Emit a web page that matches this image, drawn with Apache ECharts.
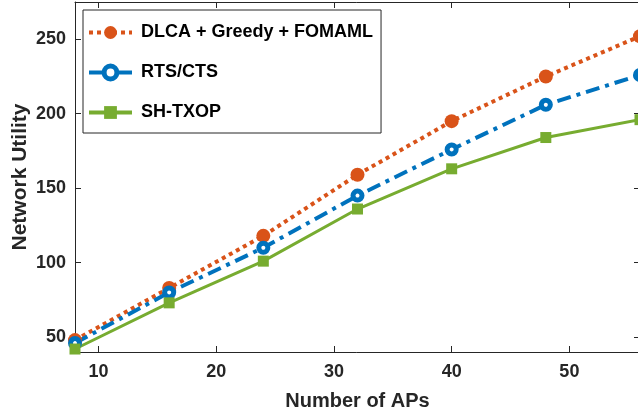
<!DOCTYPE html>
<html>
<head>
<meta charset="utf-8">
<script src="https://cdn.jsdelivr.net/npm/echarts@6/dist/echarts.min.js"></script>
<style>
html,body{margin:0;padding:0;background:#fff;}
#c{width:638px;height:416px;}
</style>
</head>
<body>
<div id="c"></div>
<script>
var apCounts = [8, 16, 24, 32, 40, 48, 56];
var dlcaValues = [48, 83, 118, 159, 195, 225, 252];
var rtsValues = [46, 80, 110, 145, 176, 206, 226];
var shValues = [42, 73, 101, 136, 163, 184, 196];
var xTicks = [10, 20, 30, 40, 50];
var yTicks = [50, 100, 150, 200, 250];
var seriesNames = ['DLCA + Greedy + FOMAML', 'RTS/CTS', 'SH-TXOP'];

function pairs(xs, ys){ return xs.map(function(x,i){return [x, ys[i]];}); }

var axisColor = '#262626';
var font = 'Liberation Sans, Arial, sans-serif';
var cOrange = '#D95319', cBlue = '#0072BD', cGreen = '#77AC30';

var chart = echarts.init(document.getElementById('c'), null, {renderer:'canvas'});
var baseX = {
  type:'value', min:8, max:56,
  axisLine:{show:true, onZero:false, lineStyle:{color:axisColor, width:1}},
  axisTick:{show:true, inside:true, length:6, customValues:xTicks, lineStyle:{color:axisColor}},
  splitLine:{show:false}
};
var baseY = {
  type:'value', min:40, max:275,
  axisLine:{show:true, onZero:false, lineStyle:{color:axisColor, width:1}},
  axisTick:{show:true, inside:true, length:6, customValues:yTicks, lineStyle:{color:axisColor}},
  splitLine:{show:false}
};
var option = {
  animation:false,
  backgroundColor:'#fff',
  grid:{left:75, top:2, width:565, height:350, containLabel:false, outerBoundsMode:'none'},
  xAxis:[
    Object.assign({}, baseX, {
      position:'bottom',
      name:'Number of APs', nameLocation:'middle', nameGap:39, nameMoveOverlap:false,
      nameTextStyle:{color:axisColor, fontFamily:font, fontWeight:'bold', fontSize:20},
      axisLabel:{show:true, customValues:xTicks, margin:11, color:axisColor, fontFamily:font, fontWeight:'bold', fontSize:18}
    }),
    Object.assign({}, baseX, {position:'top', axisLabel:{show:false}})
  ],
  yAxis:[
    Object.assign({}, baseY, {
      position:'left',
      name:'Network Utility', nameLocation:'middle', nameGap:44, nameMoveOverlap:false,
      nameTextStyle:{color:axisColor, fontFamily:font, fontWeight:'bold', fontSize:21},
      axisLabel:{show:true, customValues:yTicks, margin:9, color:axisColor, fontFamily:font, fontWeight:'bold', fontSize:18}
    }),
    Object.assign({}, baseY, {position:'right', axisLabel:{show:false}})
  ],
  legend:{
    show:true, orient:'vertical', left:83, top:10,
    backgroundColor:'#fff', borderColor:axisColor, borderWidth:1, borderRadius:0,
    padding:[12, 8, 10, 4], itemGap:19, itemWidth:43, itemHeight:16,
    lineStyle:{width:4},
    itemStyle:{borderWidth:'inherit'},
    textStyle:{color:'#000', fontFamily:font, fontWeight:'bold', fontSize:18, lineHeight:21, padding:[0,0,0,4]},
    data:seriesNames
  },
  series:[
    {
      name:seriesNames[0], type:'line', data:pairs(apCounts, dlcaValues),
      symbol:'circle', symbolSize:14,
      lineStyle:{color:cOrange, width:4, type:[4,4], cap:'butt'},
      itemStyle:{color:cOrange, borderWidth:0}
    },
    {
      name:seriesNames[1], type:'line', data:pairs(apCounts, rtsValues),
      symbol:'circle', symbolSize:9,
      lineStyle:{color:cBlue, width:4, type:[14,6,4,6], cap:'butt'},
      itemStyle:{color:'#ffffff', borderColor:cBlue, borderWidth:5}
    },
    {
      name:seriesNames[2], type:'line', data:pairs(apCounts, shValues),
      symbol:'rect', symbolSize:11,
      lineStyle:{color:cGreen, width:3, type:'solid'},
      itemStyle:{color:cGreen, borderWidth:0}
    }
  ]
};
chart.setOption(option);
</script>
</body>
</html>
